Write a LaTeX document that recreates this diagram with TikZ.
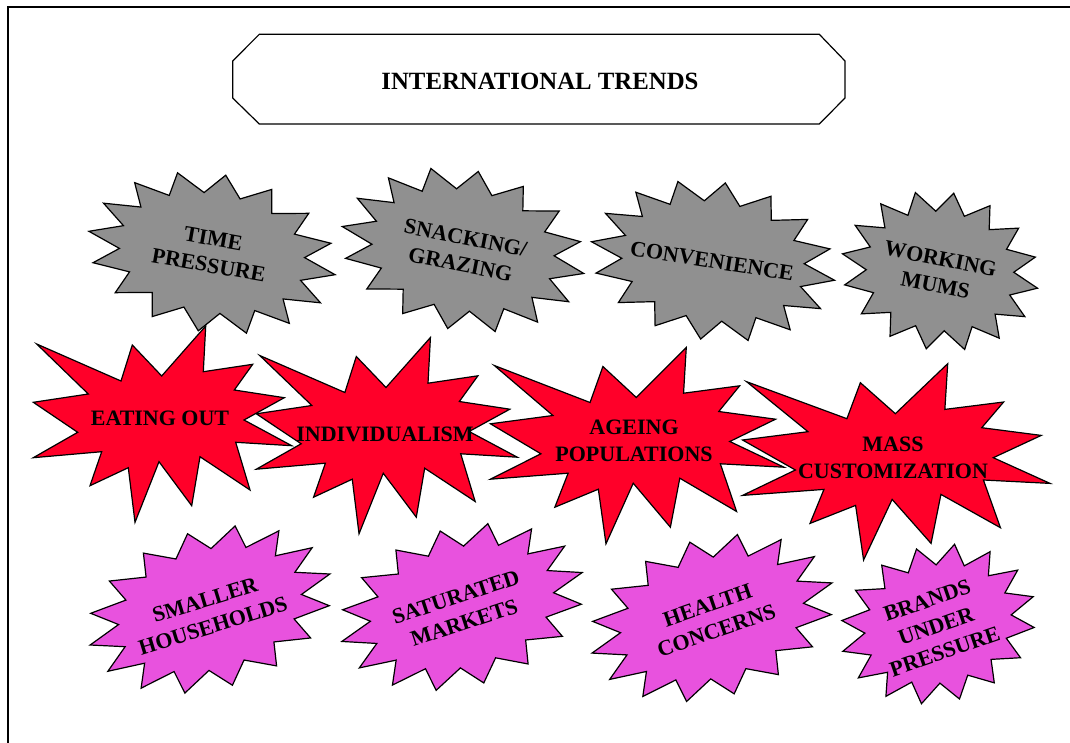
\documentclass[tikz,border=0pt]{standalone}
\usepackage{fontspec}
\setmainfont{Liberation Serif}
\usetikzlibrary{positioning}

\definecolor{trendgray}{RGB}{144,144,144}
\definecolor{trendred}{RGB}{255,0,41}
\definecolor{trendpink}{RGB}{232,82,222}

% 16 point seal: centre, half width, half height, angle, style
\newcommand{\sealburst}[5]{%
  \draw[#5,shift={#1},rotate=#4] (0:#2 and #3)
    \foreach \k in {1,...,31}{ -- ({\k*11.25}:{#2*(1-0.25*mod(\k,2))} and {#3*(1-0.25*mod(\k,2))}) } -- cycle;}

% explosion: centre, x stretch, style
\newcommand{\explosionburst}[3]{%
  \draw[#3,shift={#1},xscale=#2] (-129.2,-21.7) -- (-74.2,-30) -- (-125.8,-80) -- (-41.5,-43)
    -- (-30.2,-79) -- (-0.8,-48) -- (43.2,-98) -- (40.8,-52.3) -- (90.2,-59.7) -- (71.8,-34)
    -- (121.8,-26.3) -- (81.5,-4) -- (129.2,21.7) -- (73.2,18.3) -- (87.5,66) -- (37.5,32.7)
    -- (29.2,81.7) -- (-3.5,37.7) -- (-27.5,98.3) -- (-34.2,43.7) -- (-72.5,61.7) -- (-60.8,27.7)
    -- (-129.2,33.7) -- (-84.8,8.3) -- cycle;}

\begin{document}
\begin{tikzpicture}[x=0.5pt,y=-0.5pt,
      burstline/.style={draw=black,line width=0.6pt,line join=miter},
      grayburst/.style={burstline,fill=trendgray},
      redburst/.style={burstline,fill=trendred},
      pinkburst/.style={burstline,fill=trendpink},
      trendtext/.style={font=\fontsize{11}{13.5}\selectfont\bfseries,align=center,inner sep=0pt},
      titletext/.style={font=\fontsize{12.4}{14}\selectfont\bfseries,inner sep=0pt}]
      \useasboundingbox (0,0) rectangle (1070,743);

      % Frame
      \draw[line width=1pt] (7.5,743) -- (7.5,7) -- (1070,7);

      % Title
      \draw[burstline] (259.3,34.3) -- (819.3,34.3) -- (845,61) -- (845,98) -- (819.3,124)
        -- (259.3,124) -- (232.7,98) -- (232.7,61) -- cycle;
      \node[titletext] (title) at (540,81) {INTERNATIONAL TRENDS};

      % Grey row
      \sealburst{(212,253)}{125}{79}{-10}{grayburst}
      \node[trendtext,rotate=-10] (timepressure) at (211,252) {TIME\\PRESSURE};
      \sealburst{(463,250)}{123}{80}{-11}{grayburst}
      \node[trendtext,rotate=-11] (snacking) at (463,251) {SNACKING/\\GRAZING};
      \sealburst{(713,261)}{123}{79}{-9}{grayburst}
      \node[trendtext,rotate=-9] (convenience) at (712,261) {CONVENIENCE};
      \sealburst{(940,271)}{99}{79}{-10}{grayburst}
      \node[trendtext,rotate=-11] (workingmums) at (938,272) {WORKING\\MUMS};

      % Red row
      \explosionburst{(162.5,424)}{1}{redburst}
      \node[trendtext] (eatingout) at (160,418) {EATING OUT};
      \explosionburst{(386.8,435.5)}{1.01}{redburst}
      \node[trendtext] (individualism) at (385,434) {INDIVIDUALISM};
      \explosionburst{(637.2,445.5)}{1.136}{redburst}
      \node[trendtext] (ageing) at (634,441) {AGEING\\POPULATIONS};
      \explosionburst{(896.3,461.7)}{1.19}{redburst}
      \node[trendtext] (masscustom) at (893,458) {MASS\\CUSTOMIZATION};

      % Pink row
      \sealburst{(210,609.5)}{125}{79}{16.5}{pinkburst}
      \node[trendtext,rotate=17] (smallerhouse) at (209,613) {SMALLER\\HOUSEHOLDS};
      \sealburst{(462,607)}{125}{79}{16}{pinkburst}
      \node[trendtext,rotate=18] (saturated) at (460,610) {SATURATED\\MARKETS};
      \sealburst{(712,618)}{125}{79}{16.3}{pinkburst}
      \node[trendtext,rotate=19] (health) at (712,618) {HEALTH\\CONCERNS};
      \sealburst{(938,624)}{99}{78}{16}{pinkburst}
      \node[trendtext,rotate=19] (brands) at (936,626) {BRANDS\\UNDER\\PRESSURE};

    \end{tikzpicture}
\end{document}
